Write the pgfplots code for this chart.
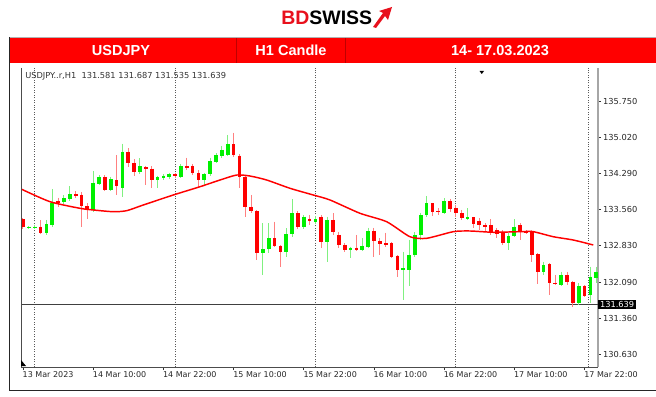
\documentclass[border=0pt]{standalone}
\usepackage{pgfplots}
\pgfplotsset{compat=1.18}
\usepackage{pgfplotstable}
\usepackage{fontspec}
\setmainfont{Liberation Sans}
\newfontfamily\mt{DejaVu Sans}
\definecolor{mtred}{HTML}{FF0000}
\definecolor{mtgreen}{HTML}{00F000}
\definecolor{wickred}{HTML}{FF8080}
\definecolor{wickgreen}{HTML}{80F080}
\definecolor{logored}{HTML}{E8101C}

% up (green) candles: index open high low close
\pgfplotstableread{
i o h l c
1 133.189 133.229 133.168 133.209
2 133.189 133.250 133.168 133.215
4 133.087 133.351 133.037 133.260
5 133.250 133.980 133.219 133.696
7 133.706 133.848 133.675 133.797
8 133.767 134.040 133.736 133.878
12 133.554 134.345 133.523 134.111
13 134.091 134.263 134.061 134.223
15 133.959 134.223 133.929 134.182
17 134.000 134.902 133.817 134.740
20 134.334 134.608 134.284 134.436
23 134.162 134.253 134.000 134.213
24 134.193 134.284 134.162 134.253
25 134.223 134.314 134.182 134.274
27 134.233 134.487 134.203 134.446
31 134.162 134.304 134.061 134.274
32 134.274 134.618 134.243 134.547
33 134.537 134.700 134.507 134.669
34 134.639 134.852 134.608 134.771
35 134.669 135.075 134.649 134.886
41 132.676 133.284 132.236 132.757
42 132.757 133.284 132.676 132.980
45 132.708 133.183 132.607 133.061
46 133.061 133.777 133.012 133.487
48 133.215 133.452 133.168 133.418
50 133.316 133.432 133.270 133.371
52 132.911 133.418 132.505 133.351
56 132.743 132.809 132.574 132.789
58 132.743 132.986 132.716 132.830
59 132.809 133.195 132.777 133.128
65 132.337 132.708 131.729 132.371
66 132.337 132.945 132.012 132.641
67 132.631 133.108 132.601 133.047
68 133.047 133.493 132.945 133.452
69 133.452 133.838 133.418 133.690
72 133.493 133.797 133.473 133.732
76 133.371 133.588 133.351 133.406
83 132.878 133.081 132.743 133.033
84 133.033 133.371 133.012 133.215
89 132.302 132.505 132.236 132.438
92 132.033 132.302 132.018 132.236
95 131.662 132.073 131.627 132.018
97 131.830 132.404 131.662 132.201
98 132.181 132.404 132.067 132.302
}\uptab

% down (red) candles
\pgfplotstableread{
i o h l c
0 133.371 133.391 133.178 133.203
3 133.219 133.341 133.067 133.087
6 133.736 133.807 133.615 133.696
9 133.878 133.939 133.807 133.838
10 133.858 133.919 133.209 133.625
11 133.625 133.696 133.381 133.554
14 134.223 134.263 133.929 133.959
16 134.162 134.669 133.858 134.040
18 134.740 134.811 134.416 134.497
19 134.507 134.588 134.243 134.334
21 134.416 134.436 134.061 134.385
22 134.395 134.436 134.000 134.162
26 134.274 134.314 134.203 134.243
28 134.446 134.618 134.375 134.405
29 134.446 134.487 134.263 134.304
30 134.314 134.365 134.020 134.172
36 134.886 135.121 134.629 134.659
37 134.659 134.683 133.994 134.229
38 134.229 134.263 133.418 133.621
39 133.621 133.858 133.487 133.533
40 133.533 133.554 132.540 132.676
43 132.980 133.316 132.809 132.830
44 132.830 132.844 132.404 132.708
47 133.487 133.533 133.168 133.215
49 133.381 133.452 133.250 133.325
51 133.418 133.452 132.777 132.911
53 133.351 133.487 133.047 133.114
54 133.047 133.114 132.777 132.844
55 132.844 132.878 132.708 132.743
57 132.789 133.047 132.728 132.743
60 133.128 133.195 132.607 132.925
61 132.925 132.980 132.641 132.870
62 132.878 133.093 132.809 132.844
63 132.878 132.905 132.590 132.607
64 132.627 132.641 132.201 132.337
70 133.690 133.696 133.432 133.519
71 133.540 133.594 133.452 133.507
73 133.732 133.777 133.519 133.580
74 133.588 133.655 133.418 133.487
75 133.487 133.554 133.351 133.385
77 133.406 133.418 133.183 133.270
78 133.337 133.385 133.148 133.250
79 133.250 133.290 133.128 133.215
80 133.250 133.365 133.047 133.081
81 133.148 133.183 132.980 133.067
82 133.081 133.148 132.844 132.878
85 133.250 133.284 132.945 133.114
86 133.128 133.148 133.067 133.087
87 133.128 133.148 132.505 132.641
88 132.655 132.676 132.047 132.302
90 132.452 132.473 131.830 132.079
91 132.079 132.236 132.033 132.047
93 132.236 132.302 132.033 132.100
94 132.100 132.114 131.593 131.662
96 132.018 132.033 131.789 131.816
}\downtab

% moving average
\pgfplotstableread{
i v
-0.34 133.980
4.62 133.722
9.74 133.588
12.02 133.554
15.44 133.519
17.73 133.540
20.56 133.655
25.69 133.858
30.26 134.026
33.68 134.162
36.53 134.263
38.80 134.243
41.66 134.162
45.64 133.994
49.62 133.858
52.48 133.757
57.61 133.487
62.17 133.316
66.15 133.012
69.01 132.980
73.56 133.114
76.41 133.128
80.39 133.102
84.96 133.114
87.23 133.114
90.65 133.012
94.07 132.945
97.49 132.844
}\matab

\begin{document}
\begin{tikzpicture}
\useasboundingbox (0,0) rectangle (492pt,297pt);
\begin{scope}[x=0.75pt,y=-0.75pt,yshift=297pt]
% logo
\node[anchor=west, inner sep=0pt, font=\fontsize{14.6}{16}\bfseries\selectfont] at (281,18) {\textcolor{logored}{BD}SWISS};
\fill[logored] (373,27) -- (383,13) -- (379,11) -- (392,7) -- (388,20) -- (385,16) -- (376,28) -- cycle;
% header bar
\fill[red] (9,38) rectangle (656,63);
\draw[gray!60, line width=0.75pt] (9,37.5) -- (656,37.5);
\draw[red!75!black, line width=0.4pt] (236,38) -- (236,63);
\draw[red!75!black, line width=0.4pt] (345,38) -- (345,63);
\node[text=white, font=\fontsize{10.9}{12}\bfseries\selectfont] at (121,50.5) {USDJPY};
\node[text=white, font=\fontsize{10.9}{12}\bfseries\selectfont] at (291,50.5) {H1 Candle};
\node[text=white, font=\fontsize{10.9}{12}\bfseries\selectfont] at (500,50.5) {14- 17.03.2023};
% outer frame
\draw[black!85, line width=0.75pt] (9,37) -- (9,390) -- (656,390);
\end{scope}

\begin{axis}[
  at={(15.75pt,21.75pt)}, anchor=south west,
  width=432.75pt, height=224.25pt, scale only axis,
  xmin=-0.34, xmax=98.3, ymin=130.3697, ymax=136.4335,
  clip mode=individual,
  axis x line*=bottom, axis y line*=right,
  x axis line style={black!70, line width=0.75pt},
  y axis line style={black!35, line width=1.3pt},
  tick align=outside, major tick length=2.25pt,
  tick style={black!80, line width=0.5pt},
  xtick={0,12,24,36,48,60,72,84,96},
  xticklabels={13 Mar 2023,14 Mar 10:00,14 Mar 22:00,15 Mar 10:00,15 Mar 22:00,16 Mar 10:00,16 Mar 22:00,17 Mar 10:00,17 Mar 22:00},
  xticklabel style={font=\mt\fontsize{6}{7}\selectfont, text=black!85, anchor=north west, inner sep=0pt, xshift=-0.4pt, yshift=-1.2pt},
  ytick={130.630,131.360,132.090,132.830,133.560,134.290,135.020,135.750},
  yticklabels={130.630,131.360,132.090,132.830,133.560,134.290,135.020,135.750},
  yticklabel style={font=\mt\fontsize{6.2}{7}\selectfont, text=black!85, anchor=west, inner sep=0pt, xshift=1.4pt},
  extra x ticks={2,26,50,74,96.7},
  extra x tick labels={},
  extra x tick style={grid=major, major tick length=0pt, major grid style={black!65, line width=0.6pt, dash pattern=on 0.75pt off 1.1pt}},
]
% price line
\addplot[black!75, line width=0.9pt, forget plot] coordinates {(-0.34,131.639) (98.3,131.639)};
% wicks
\addplot[draw=none, mark=none, forget plot, error bars/.cd, y dir=minus, y explicit, error mark=none,
  error bar style={draw=wickgreen, solid, line width=0.75pt}]
  table[x=i, y=h, y error expr=\thisrow{h}-\thisrow{l}] {\uptab};
\addplot[draw=none, mark=none, forget plot, error bars/.cd, y dir=minus, y explicit, error mark=none,
  error bar style={draw=wickred, solid, line width=0.75pt}]
  table[x=i, y=h, y error expr=\thisrow{h}-\thisrow{l}] {\downtab};
% bodies
\addplot[draw=none, mark=none, forget plot, error bars/.cd, y dir=minus, y explicit, error mark=none,
  error bar style={draw=mtgreen, solid, line width=2.8pt}]
  table[x=i, y=c, y error expr=\thisrow{c}-\thisrow{o}] {\uptab};
\addplot[draw=none, mark=none, forget plot, error bars/.cd, y dir=minus, y explicit, error mark=none,
  error bar style={draw=mtred, solid, line width=2.8pt}]
  table[x=i, y=o, y error expr=\thisrow{o}-\thisrow{c}] {\downtab};
% moving average
\addplot[mtred, line width=1.1pt, smooth, tension=0.4, forget plot] table[x=i, y=v] {\matab};
\node[fill=black, text=white, font=\mt\fontsize{6.2}{7}\selectfont, inner sep=1.3pt, anchor=west] at (axis cs:98.3,131.639) {131.639};
\end{axis}

\begin{scope}[x=0.75pt,y=-0.75pt,yshift=297pt]
\draw[black!70, line width=0.75pt] (21,68) -- (21,367);
\node[anchor=west, inner sep=0pt, font=\mt\fontsize{6.2}{7}\selectfont, text=black!80] at (25,76) {USDJPY..r,H1\ \ 131.581 131.687 131.535 131.639};
\fill[black] (479.5,71) -- (484,71) -- (481.75,74) -- cycle;
\fill[black] (21,360) -- (21,366) -- (26,366) -- cycle;
\end{scope}
\end{tikzpicture}
\end{document}
